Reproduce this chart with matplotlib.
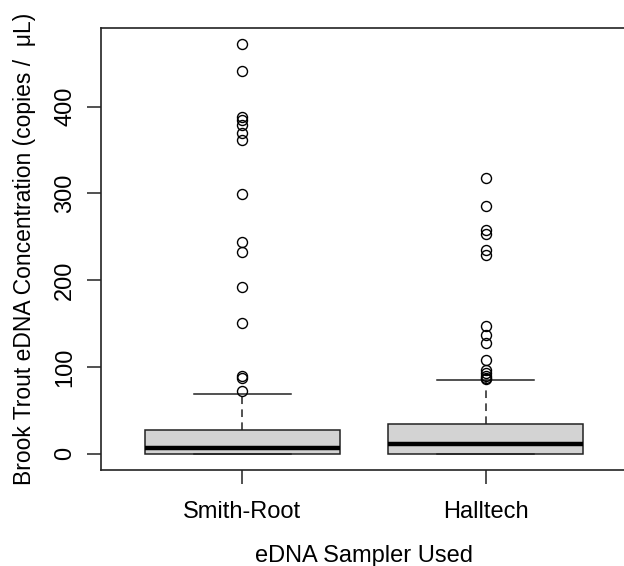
import matplotlib
matplotlib.use("Agg")
import matplotlib.pyplot as plt

plt.rcParams['font.family'] = ['Liberation Sans', 'DejaVu Sans']

categories = ["Smith-Root", "Halltech"]
q1 = [0.0, 0.0]
medians = [6.9, 10.7]
q3 = [26.9, 33.8]
whislo = [0.0, 0.0]
whishi = [68.4, 84.5]
outliers = [
    [471.8, 441.2, 388.1, 384.2, 379.3, 369.7, 361.7, 299.4, 244.0, 232.0,
     192.2, 150.7, 89.1, 87.3, 71.9],
    [317.8, 285.9, 258.2, 253.6, 235.2, 229.4, 146.7, 137.2, 127.6, 108.4,
     96.8, 93.0, 89.9, 87.3, 86.0],
]
yticks = [0, 100, 200, 300, 400]

W, H = 624, 566
fig = plt.figure(figsize=(W / 100, H / 100), dpi=100)
left, right, top, bottom = 101, 627, 27.7, 470
ax = fig.add_axes([left / W, 1 - bottom / H, (right - left) / W, (bottom - top) / H])

stats = []
for i, c in enumerate(categories):
    stats.append(dict(label=c, q1=q1[i], med=medians[i], q3=q3[i],
                      whislo=whislo[i], whishi=whishi[i], fliers=outliers[i]))

ax.bxp(stats, positions=[1, 2], widths=0.8, patch_artist=True,
       boxprops=dict(facecolor='#D3D3D3', edgecolor='#222222', linewidth=1.1),
       medianprops=dict(color='black', linewidth=3.2, solid_capstyle='butt'),
       whiskerprops=dict(color='#222222', linewidth=1.1, linestyle=(0, (5, 3.5))),
       capprops=dict(color='#222222', linewidth=1.1),
       capwidths=0.4,
       flierprops=dict(marker='o', markerfacecolor='none', markeredgecolor='black',
                       markersize=7.2, markeredgewidth=1.0, linestyle='none'))

ax.set_xlim(0.42, 2.58)
ax.set_ylim(-18.9, 490.9)
ax.set_yticks(yticks)
ax.set_yticklabels([str(t) for t in yticks], rotation=90, va='center')
ax.set_xticks([1, 2])
ax.set_xticklabels(categories)
ax.tick_params(axis='both', labelsize=17, length=10, width=1.1, color='#222222')
ax.tick_params(axis='x', pad=12)
ax.tick_params(axis='y', pad=8)
for s in ax.spines.values():
    s.set_linewidth(1.2)
    s.set_color('#222222')

ax.set_xlabel("eDNA Sampler Used", fontsize=17, labelpad=16)
ax.set_ylabel("Brook Trout eDNA Concentration (copies /  \u03bcL)", fontsize=16.5)
ax.yaxis.set_label_coords((36 - left) / (right - left), (bottom - 249) / (bottom - top))

fig.savefig("out.png", dpi=100)
